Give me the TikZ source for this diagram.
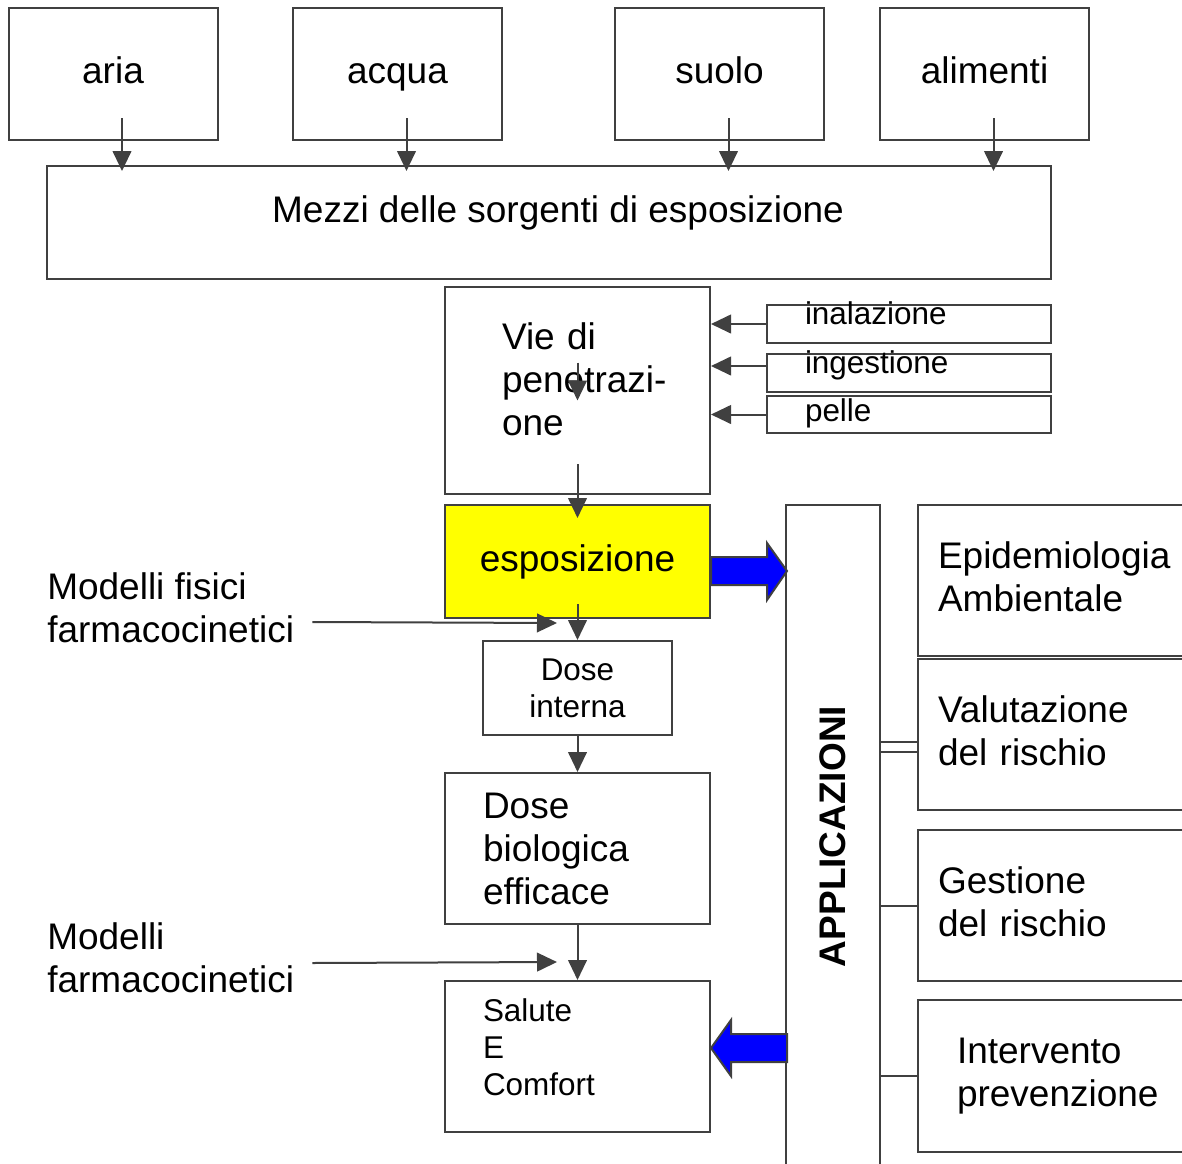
\documentclass[tikz,border=0pt]{standalone}
\usepackage{fontspec}
\setmainfont{Liberation Sans}
\usetikzlibrary{arrows.meta, calc}
\definecolor{LineGray}{HTML}{404040}
\definecolor{ExpoYellow}{HTML}{FFFF00}
\definecolor{ArrowBlue}{HTML}{0000FF}
\newcommand{\diagbig}{\fontsize{27.75pt}{32.25pt}\selectfont}
\newcommand{\diagsmall}{\fontsize{23.6pt}{27.75pt}\selectfont}
\tikzset{
    box/.style={
        draw=LineGray,
        line width=1.5pt,
        fill=#1,
        inner sep=0pt,
        align=center,
        font=\diagbig
    },
    box/.default=white,
    topbox/.style={
        box,
        minimum width=156.75pt,
        minimum height=99pt,
        text height=20pt,
        text depth=6pt
    },
    tagbox/.style={
        box,
        font=\diagsmall,
        align=left,
        minimum width=213pt,
        minimum height=28.5pt,
        text width=156pt,
        inner xsep=28.5pt,
        text height=10.5pt,
        text depth=10.5pt
    },
    appbox/.style={
        box,
        align=left,
        minimum width=211.5pt,
        minimum height=113.25pt,
        text width=181.5pt,
        inner xsep=15pt,
        text depth=38.25pt
    },
    plain/.style={
        font=\diagbig,
        align=left,
        inner sep=0pt
    },
    arrow/.style={
        -{Triangle[length=15pt,width=14pt]},
        line width=1.5pt,
        LineGray
    },
    link/.style={
        line width=1.5pt,
        LineGray
    },
    bigarrow/.style={
        draw=LineGray,
        line width=1.5pt,
        fill=ArrowBlue
    }
}

\begin{document}
\begin{tikzpicture}[x=0.75pt, y=-0.75pt]
    \path[use as bounding box, fill=white] (0,0) rectangle (1182,1164);

    % Sources
    \node[topbox] (aria) at (113,74) {aria};
    \node[topbox] (acqua) at (397.5,74) {acqua};
    \node[topbox] (suolo) at (719.5,74) {suolo};
    \node[topbox] (alimenti) at (984.5,74) {alimenti};

    % Media
    \node[box, minimum width=753pt, minimum height=84.75pt, text height=20pt, text depth=20pt] (mezzi) at (549,222.5) {\hspace{13.5pt}Mezzi delle sorgenti di esposizione};

    \draw[arrow] ($(aria.south)+(9,-23)$) -- ($(aria.south |- mezzi.north)+(9,6)$);
    \draw[arrow] ($(acqua.south)+(9,-23)$) -- ($(acqua.south |- mezzi.north)+(9,6)$);
    \draw[arrow] ($(suolo.south)+(9,-23)$) -- ($(suolo.south |- mezzi.north)+(9,6)$);
    \draw[arrow] ($(alimenti.south)+(9,-23)$) -- ($(alimenti.south |- mezzi.north)+(9,6)$);

    % Routes
    \node[box, align=left, minimum width=198.75pt, minimum height=155.25pt, text width=113.25pt, inner xsep=42.75pt, text depth=81pt] (vie) at (577.5,390.5) {Vie di\\\mbox{penetrazi-}\\one};
    \node[tagbox] (inal) at (909,324) {inalazione};
    \node[tagbox] (inge) at (909,373) {ingestione};
    \node[tagbox, minimum height=27.75pt, text height=16pt, text depth=5pt] (pelle) at (909,414.5) {pelle};

    \draw[arrow] (inal.west) -- (inal.west -| vie.east);
    \draw[arrow] ($(inge.west)+(0,-7)$) -- ($(inge.west -| vie.east)+(0,-7)$);
    \draw[arrow] (pelle.west) -- (pelle.west -| vie.east);
    \draw[arrow] ($(vie.center)+(0,-28)$) -- ($(vie.center)+(0,10)$);

    % Exposure and dose chain
    \node[box=ExpoYellow, minimum width=198.75pt, minimum height=84.75pt] (expo) at (577.5,561.5) {esposizione};
    \node[box, font=\diagsmall, minimum width=141.75pt, minimum height=70.5pt] (dosei) at (577.5,688) {Dose\\interna};
    \node[box, align=left, minimum width=198.75pt, minimum height=113.25pt, text width=141.75pt, inner xsep=28.5pt] (doseb) at (577.5,848.5) {Dose\\biologica\\efficace};
    \node[box, font=\diagsmall, align=left, minimum width=198.75pt, minimum height=113.25pt, text width=141.75pt, inner xsep=28.5pt, text depth=69pt] (salute) at (577.5,1056.5) {Salute\\E\\Comfort};

    \draw[arrow] ($(vie.south)+(0,-31)$) -- ($(expo.north)+(0,14)$);
    \draw[arrow] ($(expo.south)+(0,-15)$) -- (dosei.north);
    \draw[arrow] (dosei.south) -- (doseb.north);
    \draw[arrow] (doseb.south) -- (salute.north);

    % Models
    \node[plain, anchor=west] (modfis) at (47,608) {Modelli fisici\\farmacocinetici};
    \node[plain, anchor=west] (modfarm) at (47,958) {Modelli\\farmacocinetici};

    \draw[arrow] ($(modfis.east)+(18,14)$) -- ($(dosei.north)+(-20.5,-17)$);
    \draw[arrow] ($(modfarm.east)+(18,5)$) -- ($(salute.north)+(-20.5,-18)$);

    % Applications
    \node[box, minimum width=70.5pt, minimum height=506.25pt] (appl) at (833,842.5) {\rotatebox{90}{\hspace{9pt}\bfseries APPLICAZIONI}};

    \draw[bigarrow] ($(expo.east)+(0,-4.5)$) -- ++(56,0) -- ++(0,-14) -- ++(20,28) -- ++(-20,29) -- ++(0,-15) -- ++(-56,0) -- cycle;
    \draw[bigarrow] ($(salute.east)+(0,-8.5)$) -- ++(20,-28) -- ++(0,14) -- ++(56,0) -- ++(0,28) -- ++(-56,0) -- ++(0,14) -- cycle;

    \node[appbox] (epi) at (1059,580.5) {Epidemiologia\\Ambientale};
    \node[appbox] (valut) at (1059,734.5) {Valutazione\\del rischio};
    \node[appbox] (gest) at (1059,905.5) {Gestione\\del rischio};
    \node[appbox, minimum height=114pt, text width=153pt, inner xsep=29.25pt, text depth=38pt] (interv) at (1059,1076) {Intervento\\prevenzione};

    \draw[link] ($(valut.west)+(0,7.5)$) -- ($(valut.west -| appl.east)+(0,7.5)$);
    \draw[link] ($(valut.west)+(0,17.5)$) -- ($(valut.west -| appl.east)+(0,17.5)$);
    \draw[link] (gest.west) -- (gest.west -| appl.east);
    \draw[link] (interv.west) -- (interv.west -| appl.east);
\end{tikzpicture}
\end{document}
